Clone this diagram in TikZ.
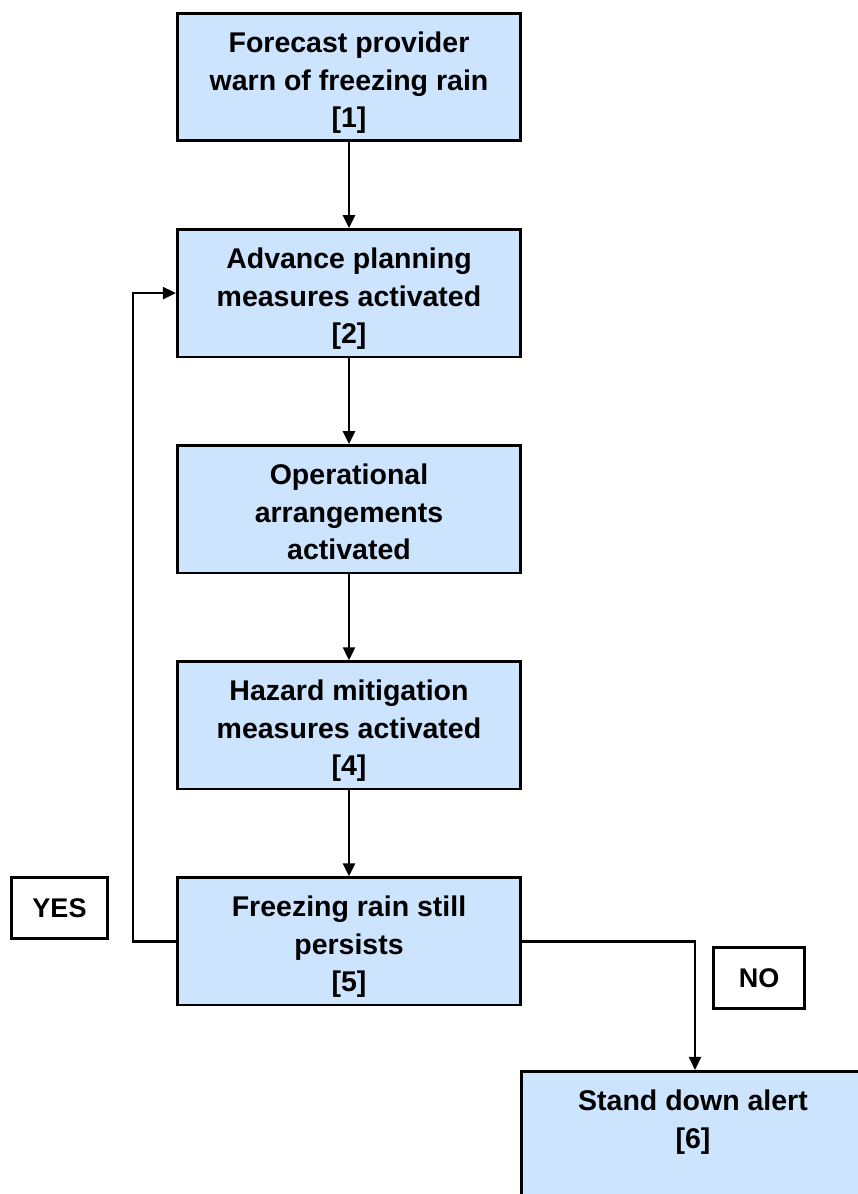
\documentclass[tikz,border=0pt]{standalone}
\usepackage{fontspec}
\setmainfont{Liberation Sans}
\usetikzlibrary{arrows.meta, positioning}
\definecolor{boxblue}{RGB}{204,228,253}

\begin{document}
\begin{tikzpicture}[
  block/.style = {draw, line width=2.6pt, fill=boxblue, minimum height=127.5pt, minimum width=343.5pt,
                  align=center, font=\bfseries\fontsize{28.5}{37.5}\selectfont,
                  text height=108pt, text depth=7pt},
  answer/.style = {draw, line width=2.6pt, fill=white, minimum height=61.5pt, align=center,
                   font=\bfseries\fontsize{27}{34}\selectfont},
  arrow/.style = {line width=2.4pt, -{Triangle[length=13pt, width=12pt]}},
  node distance=86pt
]
  \useasboundingbox (0,0) rectangle (858pt,-1194pt);

  % Warning from forecast provider
  \node[block] (warn) at (349pt,-77pt) {Forecast provider\\warn of freezing rain\\{[1]}};

  % Planning and operations
  \node[block, below=of warn] (plan) {Advance planning\\measures activated\\{[2]}};
  \node[block, below=of plan] (ops) {Operational\\arrangements\\activated};

  % Mitigation
  \node[block, below=of ops] (hazard) {Hazard mitigation\\measures activated\\{[4]}};

  % Decision
  \node[block, below=of hazard] (persist) {Freezing rain still\\persists\\{[5]}};

  % Stand down (runs off the page)
  \node[block] (stand) at (693pt,-1135pt) {Stand down alert\\{[6]}\\\strut};

  % Answer labels
  \node[answer, minimum width=96.5pt] (yes) at (59.5pt,-908pt) {YES};
  \node[answer, minimum width=91.5pt] (no) at (759pt,-978pt) {NO};

  % Main flow
  \draw[arrow] (warn) -- (plan);
  \draw[arrow] (plan) -- (ops);
  \draw[arrow] (ops) -- (hazard);
  \draw[arrow] (hazard) -- (persist);

  % Loop back when rain persists
  \draw[arrow] (persist.west) -- ++(-43pt,0) |- (plan.west);

  % Otherwise stand down
  \draw[arrow] (persist.east) -| ([xshift=2pt]stand.north);

\end{tikzpicture}
\end{document}
